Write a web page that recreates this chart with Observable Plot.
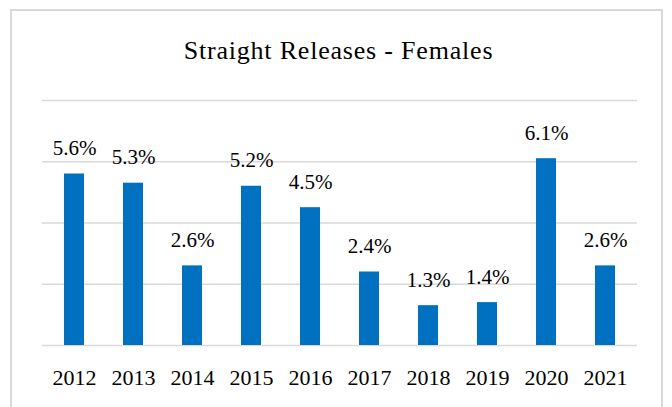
<!DOCTYPE html>
<html>
<head>
<meta charset="utf-8">
<script src="https://cdn.jsdelivr.net/npm/d3@7"></script>
<script src="https://cdn.jsdelivr.net/npm/@observablehq/plot@0.6"></script>
<style>
  html, body { margin: 0; padding: 0; background: #fff; width: 672px; height: 407px; overflow: hidden; }
  #frame { position: absolute; left: 10px; top: 9px; width: 653px; height: 420px; box-sizing: border-box; border: 2px solid #d9d9d9; }
  #title { position: absolute; left: 0; top: 36px; width: 677px; text-align: center;
    font-family: "Liberation Serif"; font-size: 26px; letter-spacing: 0.8px; color: #000; line-height: 30px; }
  #chart { position: absolute; left: 0; top: 0; }
</style>
</head>
<body>
<div id="frame"></div>
<div id="title">Straight Releases - Females</div>
<div id="chart"></div>
<script>
const years = ["2012", "2013", "2014", "2015", "2016", "2017", "2018", "2019", "2020", "2021"];
const rates = [5.6, 5.3, 2.6, 5.2, 4.5, 2.4, 1.3, 1.4, 6.1, 2.6];
const gridValues = [0, 2, 4, 6, 8];

const data = years.map((year, i) => ({year, rate: rates[i], label: rates[i].toFixed(1) + "%"}));

const chart = Plot.plot({
  width: 672,
  height: 407,
  marginLeft: 42,
  marginRight: 35,
  marginTop: 100,
  marginBottom: 62,
  style: {fontFamily: "Liberation Serif", background: "transparent", overflow: "visible"},
  x: {domain: years, paddingInner: 0.66, paddingOuter: 0.33, label: null},
  y: {domain: [0, 8], label: null},
  marks: [
    Plot.ruleY(gridValues, {stroke: "#d9d9d9", strokeWidth: 1.5}),
    Plot.barY(data, {x: "year", y: "rate", fill: "#0070c0"}),
    Plot.text(data, {x: "year", y: "rate", text: "label", lineAnchor: "bottom", dy: -19, fontSize: 21, fill: "#000"}),
    Plot.axisX({tickSize: 0, tickPadding: 24, fontSize: 22, color: "#000", label: null}),
    Plot.axisY({ticks: [], label: null, tickSize: 0})
  ]
});
document.getElementById("chart").appendChild(chart);
</script>
</body>
</html>
